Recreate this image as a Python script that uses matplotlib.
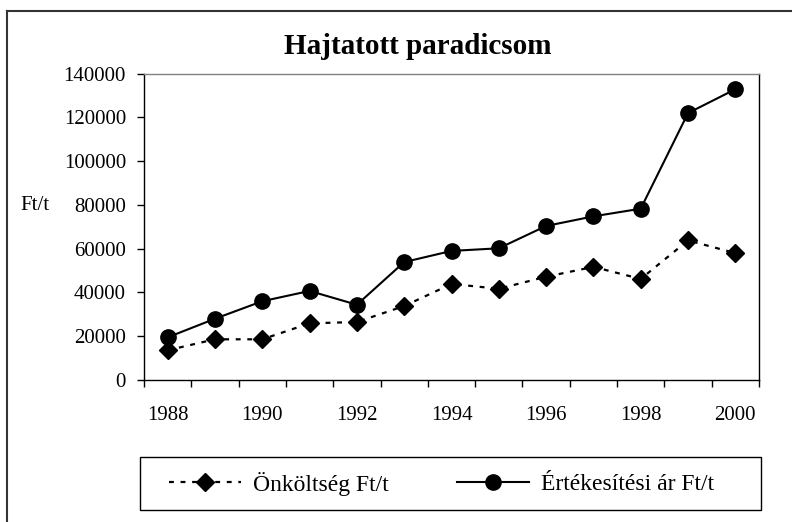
import matplotlib
matplotlib.use("Agg")
import matplotlib.pyplot as plt
from matplotlib.lines import Line2D
from matplotlib.patches import Rectangle

years = [1988, 1989, 1990, 1991, 1992, 1993, 1994, 1995, 1996, 1997, 1998, 1999, 2000]
onkoltseg = [13600, 18600, 18600, 25900, 26500, 33800, 43900, 41700, 47200, 51700, 46200, 63800, 58000]
ertekesitesi = [19500, 28000, 36000, 40700, 34400, 53900, 59000, 60200, 70400, 74800, 78300, 122000, 132900]
label_years = [1988, 1990, 1992, 1994, 1996, 1998, 2000]
y_ticks = [0, 20000, 40000, 60000, 80000, 100000, 120000, 140000]

title = "Hajtatott paradicsom"
ylabel = "Ft/t"
series_names = ["Önköltség Ft/t", "Értékesítési ár Ft/t"]

plt.rcParams['font.family'] = ['Liberation Serif', 'DejaVu Serif']

W, H = 792, 522
fig = plt.figure(figsize=(W / 100, H / 100), dpi=100)

def fx(px):
    return px / W

def fy(py):
    return 1 - py / H

L, R, T, B = 144, 759, 73.7, 380
ax = fig.add_axes([fx(L), fy(B), (R - L) / W, (B - T) / H])

x = list(range(len(years)))
ax.plot(x, onkoltseg, color='black', lw=1.6, linestyle=(0, (2.2, 3.0)),
        marker='D', markersize=9.5, markerfacecolor='black', markeredgecolor='black')
ax.plot(x, ertekesitesi, color='black', lw=1.5, linestyle='-',
        marker='o', markersize=11, markerfacecolor='black', markeredgecolor='black')

ax.set_xlim(-0.5, len(years) - 0.5)
ax.set_ylim(0, 140000)

# category boundaries as tick marks
ax.set_xticks([i - 0.5 for i in range(len(years) + 1)])
ax.set_xticklabels([])
ax.tick_params(axis='x', which='major', direction='out', length=5, width=1, color='black')
label_pos = [years.index(yv) for yv in label_years]
ax.set_xticks(label_pos, minor=True)
ax.set_xticklabels([str(v) for v in label_years], minor=True)
ax.tick_params(axis='x', which='minor', length=0, pad=19, labelsize=15)

ax.set_yticks(y_ticks)
ax.set_yticklabels([str(v) for v in y_ticks])
ax.tick_params(axis='y', direction='out', length=5, width=1, pad=8, labelsize=15)

for s in ['left', 'bottom', 'right']:
    ax.spines[s].set_color('black')
    ax.spines[s].set_linewidth(1.0)
ax.spines['top'].set_color('#808080')
ax.spines['top'].set_linewidth(1.0)

fig.text(fx(418), fy(46), title, ha='center', va='center', fontsize=21, fontweight='bold')
fig.text(fx(20), fy(205), ylabel, ha='left', va='center', fontsize=15)

# outer chart frame (visible top and left edges)
fig.add_artist(Line2D([fx(7), 1.0], [fy(11), fy(11)], transform=fig.transFigure,
                      color='#333333', lw=1.5))
fig.add_artist(Line2D([fx(7), fx(7)], [fy(11), 0.0], transform=fig.transFigure,
                      color='#333333', lw=1.5))

# legend box
fig.add_artist(Rectangle((fx(140), fy(510)), (761 - 140) / W, (510 - 457) / H,
                         transform=fig.transFigure, fill=False, edgecolor='black', lw=1.0))
handles = [
    Line2D([], [], color='black', lw=1.6, linestyle=(0, (2.2, 3.0)), marker='D',
           markersize=9.5, markerfacecolor='black'),
    Line2D([], [], color='black', lw=1.5, linestyle='-', marker='o',
           markersize=11, markerfacecolor='black'),
]
fig.legend(handles, series_names, loc='center', bbox_to_anchor=(fx(441.5), fy(483.5)),
           frameon=False, ncol=2, handlelength=3.05, handletextpad=0.51,
           columnspacing=2.9, fontsize=17, numpoints=1)

fig.savefig("out.png", dpi=100)
